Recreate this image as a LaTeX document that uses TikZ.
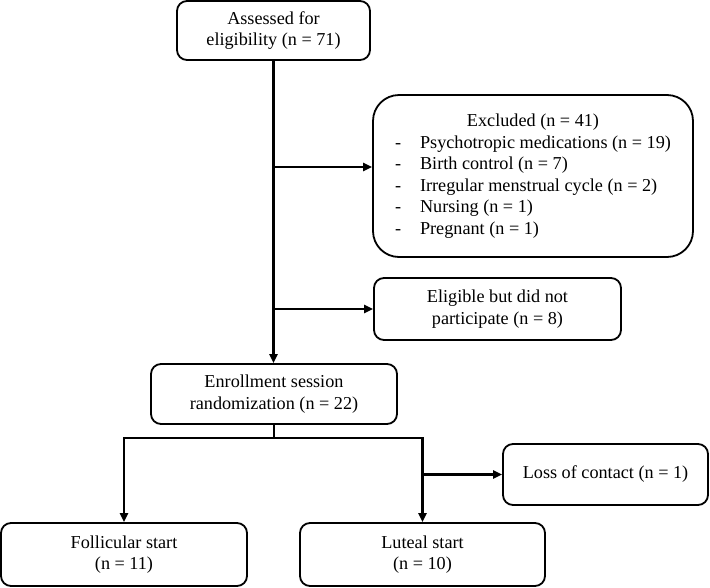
\documentclass[tikz,border=0pt]{standalone}
\usepackage{fontspec}
\setmainfont{Liberation Serif}
\usetikzlibrary{arrows.meta}
\begin{document}
\begin{tikzpicture}[x=1pt,y=-1pt,
  box/.style={draw,line width=1.8pt,rounded corners=10pt,align=center,inner sep=0pt,
    font=\fontsize{18.2}{21.5}\selectfont},
  arr/.style={line width=2.2pt,-{Triangle[length=9pt,width=8pt]}},
  ln/.style={line width=2.2pt}]
\useasboundingbox (0,0) rectangle (710,587);
\node[box,minimum width=193pt,minimum height=59pt] (assess) at (273.5,30.5) {Assessed for\\eligibility (n = 71)};
\node[box,rounded corners=26pt,minimum width=320pt,minimum height=162pt] (excl) at (533,176)
  {\begin{tabular}{@{}p{25pt}@{}l@{}}
   \multicolumn{2}{c}{Excluded (n = 41)}\\
   -& Psychotropic medications (n = 19)\\
   -& Birth control (n = 7)\\
   -& Irregular menstrual cycle (n = 2)\\
   -& Nursing (n = 1)\\
   -& Pregnant (n = 1)
   \end{tabular}};
\node[box,minimum width=247pt,minimum height=62pt] (elig) at (497.5,309) {Eligible but did not\\participate (n = 8)};
\node[box,minimum width=246pt,minimum height=60pt] (enroll) at (274,394) {Enrollment session\\randomization (n = 22)};
\node[box,minimum width=205pt,minimum height=61pt] (loss) at (605.5,474.5) {Loss of contact (n = 1)};
\node[box,minimum width=246pt,minimum height=63pt] (foll) at (124,554.5) {Follicular start\\(n = 11)};
\node[box,minimum width=245pt,minimum height=63pt] (lut) at (422.5,554.5) {Luteal start\\(n = 10)};
\draw[arr] (assess.south) -- (assess.south |- enroll.north);
\coordinate (b1) at ([yshift=9pt]assess.south |- excl.west);
\draw[arr] (b1) -- (b1 -| excl.west);
\coordinate (b2) at (assess.south |- elig.west);
\draw[arr] (b2) -- (elig.west);
\draw[ln] (enroll.south) -- ++(0,13) coordinate (s);
\draw[arr] (s) -| (foll.north);
\draw[arr] (s) -| (lut.north);
\coordinate (b3) at (lut.north |- loss.west);
\draw[arr] (b3) -- (loss.west);
\end{tikzpicture}
\end{document}
